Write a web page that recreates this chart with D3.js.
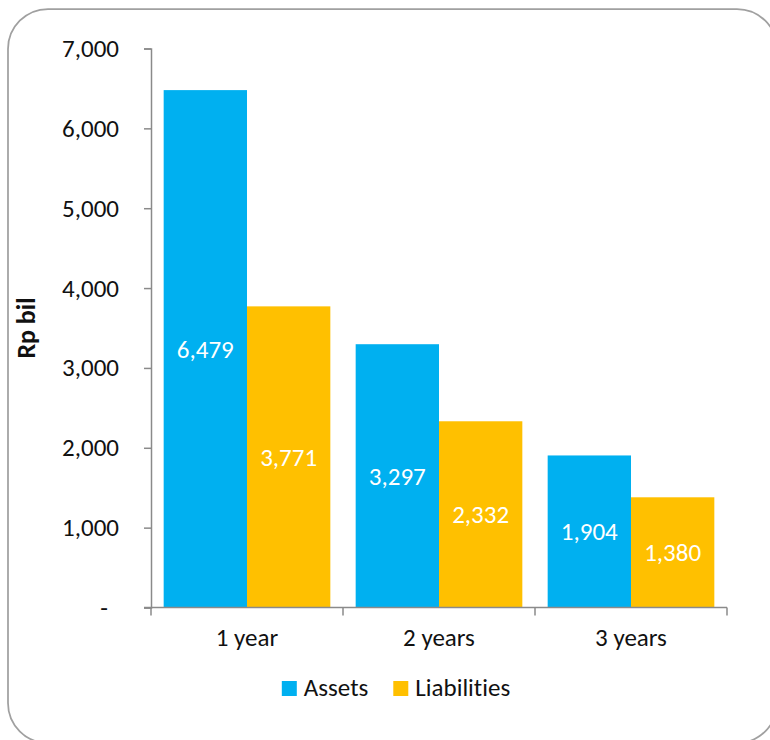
<!DOCTYPE html>
<html>
<head>
<meta charset="utf-8">
<script src="https://cdn.jsdelivr.net/npm/d3@7"></script>
<style>
  html, body { margin: 0; padding: 0; background: #ffffff; }
  svg { display: block; }
  text {
    font-family: Carlito, Calibri, Lato, "Open Sans", sans-serif;
    font-variant-ligatures: none;
    font-feature-settings: "liga" 0, "clig" 0;
  }
</style>
</head>
<body>
<svg id="chart" width="770" height="740"></svg>
<script>
// Maturity buckets and amounts (Rp billion)
const categories = ["1 year", "2 years", "3 years"];
const assets = [6479, 3297, 1904];
const liabilities = [3771, 2332, 1380];
const seriesNames = ["Assets", "Liabilities"];
const seriesColors = ["#00B0F0", "#FFC000"];
const yTicks = [0, 1000, 2000, 3000, 4000, 5000, 6000, 7000];
const yTitle = "Rp bil";

const svg = d3.select("#chart");
const axisColor = "#8a8a8a";
const textColor = "#111111";
const fontSize = 25;

// Rounded frame around the chart
svg.append("rect")
  .attr("x", 8).attr("y", 9)
  .attr("width", 769).attr("height", 734)
  .attr("rx", 40).attr("ry", 40)
  .attr("fill", "#ffffff")
  .attr("stroke", "#a0a0a0")
  .attr("stroke-width", 1.75);

const plot = { left: 151, right: 727, top: 48.5, bottom: 607.5 };

const y = d3.scaleLinear()
  .domain([0, 7000])
  .range([plot.bottom, plot.top]);

const x0 = d3.scaleBand()
  .domain(categories)
  .range([plot.left, plot.right])
  .padding(0);

const x1 = d3.scaleBand()
  .domain(seriesNames)
  .range([0, x0.bandwidth()])
  .paddingInner(0)
  .paddingOuter(0.152);

const rows = categories.map((c, i) => ({
  category: c,
  values: [
    { series: seriesNames[0], value: assets[i], color: seriesColors[0] },
    { series: seriesNames[1], value: liabilities[i], color: seriesColors[1] }
  ]
}));

// Bars
const groups = svg.append("g").selectAll("g")
  .data(rows)
  .join("g")
  .attr("transform", d => `translate(${x0(d.category)},0)`);

groups.selectAll("rect")
  .data(d => d.values)
  .join("rect")
  .attr("x", d => x1(d.series))
  .attr("width", x1.bandwidth())
  .attr("y", d => y(d.value))
  .attr("height", d => y(0) - y(d.value))
  .attr("fill", d => d.color);

// Value labels centred inside each bar
groups.selectAll("text.value")
  .data(d => d.values)
  .join("text")
  .attr("class", "value")
  .attr("x", d => x1(d.series) + x1.bandwidth() / 2)
  .attr("y", d => y(d.value / 2))
  .attr("dy", "0.35em")
  .attr("text-anchor", "middle")
  .attr("fill", "#ffffff")
  .attr("font-size", fontSize)
  .text(d => d3.format(",")(d.value));

// Y axis
const yAxis = svg.append("g")
  .attr("transform", `translate(${plot.left},0)`)
  .call(d3.axisLeft(y)
    .tickValues(yTicks)
    .tickSize(7)
    .tickPadding(25)
    .tickFormat(v => v === 0 ? "-" : d3.format(",")(v)));
yAxis.attr("font-family", null);
yAxis.select(".domain").attr("stroke", axisColor).attr("stroke-width", 1.5);
yAxis.selectAll(".tick line").attr("stroke", axisColor).attr("stroke-width", 1.5);
yAxis.selectAll(".tick text")
  .attr("font-size", fontSize)
  .attr("fill", textColor)
  .attr("dx", v => v === 0 ? -11 : 0);

// X axis: baseline, boundary ticks and category labels
const xAxis = svg.append("g");
xAxis.append("line")
  .attr("x1", plot.left - 7).attr("x2", plot.right)
  .attr("y1", y(0)).attr("y2", y(0))
  .attr("stroke", axisColor).attr("stroke-width", 1.5);
const bounds = categories.map(c => x0(c)).concat([x0.range()[1]]);
xAxis.selectAll("line.tick")
  .data(bounds)
  .join("line")
  .attr("class", "tick")
  .attr("x1", d => d).attr("x2", d => d)
  .attr("y1", y(0)).attr("y2", y(0) + 8)
  .attr("stroke", axisColor).attr("stroke-width", 1.5);
xAxis.selectAll("text")
  .data(categories)
  .join("text")
  .attr("x", d => x0(d) + x0.bandwidth() / 2)
  .attr("y", 646)
  .attr("text-anchor", "middle")
  .attr("font-size", fontSize)
  .attr("fill", textColor)
  .text(d => d);

// Y axis title
svg.append("text")
  .attr("transform", `translate(35,${(plot.top + plot.bottom) / 2}) rotate(-90)`)
  .attr("text-anchor", "middle")
  .attr("font-size", fontSize + 1)
  .attr("font-weight", "bold")
  .attr("fill", textColor)
  .text(yTitle);

// Legend
const legend = svg.append("g");
const items = legend.selectAll("g")
  .data(seriesNames.map((s, i) => ({ name: s, color: seriesColors[i] })))
  .join("g");
items.append("rect")
  .attr("x", 0).attr("y", -15)
  .attr("width", 15).attr("height", 15)
  .attr("fill", d => d.color);
items.append("text")
  .attr("x", 22).attr("y", 0)
  .attr("font-size", fontSize)
  .attr("fill", textColor)
  .text(d => d.name);
let cursor = 0;
items.each(function () {
  const g = d3.select(this);
  g.attr("transform", `translate(${cursor},0)`);
  cursor += 22 + g.select("text").node().getComputedTextLength() + 25;
});
const legendWidth = cursor - 25;
legend.attr("transform", `translate(${396 - legendWidth / 2},696)`);
</script>
</body>
</html>
